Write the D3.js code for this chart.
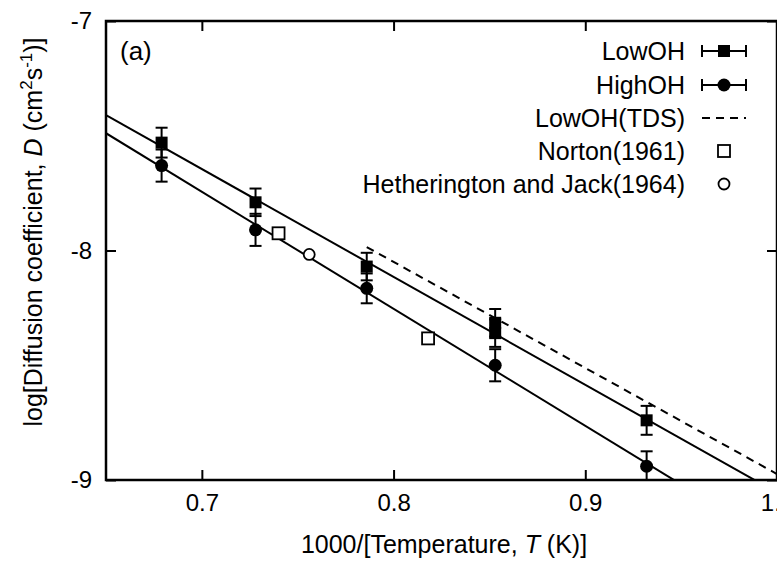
<!DOCTYPE html>
<html><head><meta charset="utf-8">
<script src="https://cdn.jsdelivr.net/npm/d3@7"></script>
<style>
body{margin:0;background:#fff;}
svg{font-family:"Liberation Sans",Arial,Helvetica,sans-serif;}
</style></head>
<body><svg id="c" width="777" height="568"></svg>
<script>
// ---- data ----
const xTicks = [0.7, 0.8, 0.9, 1.0];
const yTicks = [-7, -8, -9];
const lowX   = [0.679, 0.728, 0.786, 0.853, 0.853, 0.932];
const lowY   = [-7.53, -7.79, -8.07, -8.315, -8.36, -8.74];
const lowErr = [0.065, 0.06, 0.06, 0.06, 0.06, 0.063];
const highX  = [0.679, 0.728, 0.786, 0.853, 0.932];
const highY  = [-7.63, -7.91, -8.165, -8.50, -8.94];
const highErr= [0.07, 0.07, 0.065, 0.07, 0.065];
const lowFit  = [[0.65, -7.41], [1.0, -9.055]];
const highFit = [[0.65, -7.489], [1.0, -9.274]];
const tdsFit  = [[0.786, -7.985], [1.0, -8.974]];
const nortonX = [0.740, 0.818];
const nortonY = [-7.925, -8.383];
const hjX = [0.756];
const hjY = [-8.017];
const legendLabels = ["LowOH", "HighOH", "LowOH(TDS)", "Norton(1961)", "Hetherington and Jack(1964)"];

// ---- layout ----
const L = 106, R = 777, T = 21, B = 480;
const svg = d3.select("#c");
const x = d3.scaleLinear().domain([0.65, 1.0]).range([L, R]);
const y = d3.scaleLinear().domain([-7, -9]).range([T, B]);

svg.append("defs").append("clipPath").attr("id","clip")
  .append("rect").attr("x",L).attr("y",T).attr("width",R-L).attr("height",B-T);

const plot = svg.append("g").attr("clip-path","url(#clip)");
const line = d3.line().x(d=>x(d[0])).y(d=>y(d[1]));

plot.append("path").datum(lowFit).attr("d",line).attr("stroke","#000").attr("stroke-width",2).attr("fill","none");
plot.append("path").datum(highFit).attr("d",line).attr("stroke","#000").attr("stroke-width",2).attr("fill","none");
plot.append("path").datum(tdsFit).attr("d",line).attr("stroke","#000").attr("stroke-width",2).attr("fill","none").attr("stroke-dasharray","8,6");

function errBars(xs, ys, es){
  const g = plot.append("g").attr("stroke","#000").attr("stroke-width",2);
  xs.forEach((xv,i)=>{
    const cx = x(xv), y1 = y(ys[i]+es[i]), y2 = y(ys[i]-es[i]);
    g.append("line").attr("x1",cx).attr("x2",cx).attr("y1",y1).attr("y2",y2);
    g.append("line").attr("x1",cx-6).attr("x2",cx+6).attr("y1",y1).attr("y2",y1);
    g.append("line").attr("x1",cx-6).attr("x2",cx+6).attr("y1",y2).attr("y2",y2);
  });
}
errBars(lowX, lowY, lowErr);
errBars(highX, highY, highErr);

plot.selectAll(".lo").data(lowX).enter().append("rect")
  .attr("x",(d)=>x(d)-6).attr("y",(d,i)=>y(lowY[i])-6).attr("width",12).attr("height",12).attr("fill","#000");
plot.selectAll(".hi").data(highX).enter().append("circle")
  .attr("cx",d=>x(d)).attr("cy",(d,i)=>y(highY[i])).attr("r",6.5).attr("fill","#000");
plot.selectAll(".no").data(nortonX).enter().append("rect")
  .attr("x",d=>x(d)-6).attr("y",(d,i)=>y(nortonY[i])-6).attr("width",12).attr("height",12)
  .attr("fill","#fff").attr("stroke","#000").attr("stroke-width",1.8);
plot.selectAll(".hj").data(hjX).enter().append("circle")
  .attr("cx",d=>x(d)).attr("cy",(d,i)=>y(hjY[i])).attr("r",5.5)
  .attr("fill","#fff").attr("stroke","#000").attr("stroke-width",1.8);

// ---- axes ----
const axB = svg.append("g").attr("transform",`translate(0,${B})`)
  .call(d3.axisBottom(x).tickValues(xTicks).tickSize(-10).tickPadding(14).tickFormat(d=>d.toFixed(1)));
const axT = svg.append("g").attr("transform",`translate(0,${T})`)
  .call(d3.axisTop(x).tickValues(xTicks).tickSize(-10).tickFormat(""));
const axL = svg.append("g").attr("transform",`translate(${L},0)`)
  .call(d3.axisLeft(y).tickValues(yTicks).tickSize(-10).tickPadding(14).tickFormat(d=>String(d)));
const axR = svg.append("g").attr("transform",`translate(${R},0)`)
  .call(d3.axisRight(y).tickValues(yTicks).tickSize(-10).tickFormat(""));
[axB,axT,axL,axR].forEach(a=>{
  a.selectAll(".domain").remove();
  a.selectAll("line").attr("stroke","#000").attr("stroke-width",2);
  a.selectAll("text").attr("font-size",24).attr("fill","#000")
    .attr("font-family","'Liberation Sans',Arial,sans-serif");
});
svg.append("rect").attr("x",L).attr("y",T).attr("width",R-L).attr("height",B-T)
  .attr("fill","none").attr("stroke","#000").attr("stroke-width",2.5);

// ---- titles ----
const xt = svg.append("text").attr("x",444).attr("y",553).attr("text-anchor","middle")
  .attr("font-size",25).attr("fill","#000");
xt.append("tspan").text("1000/[Temperature, ");
xt.append("tspan").attr("font-style","italic").text("T");
xt.append("tspan").text(" (K)]");

const yt = svg.append("text").attr("transform","translate(42,232) rotate(-90)").attr("text-anchor","middle")
  .attr("font-size",25).attr("fill","#000");
yt.append("tspan").text("log[Diffusion coefficient, ");
yt.append("tspan").attr("font-style","italic").text("D");
yt.append("tspan").text(" (cm");
yt.append("tspan").attr("font-size",17).attr("dy",-10).text("2");
yt.append("tspan").attr("dy",10).text("s");
yt.append("tspan").attr("font-size",17).attr("dy",-10).text("-1");
yt.append("tspan").attr("dy",10).text(")]");

svg.append("text").attr("x",120).attr("y",60).attr("font-size",26).text("(a)");

// ---- legend ----
const lg = svg.append("g");
const rowsY = [51, 85, 118, 151, 184];
legendLabels.forEach((t,i)=>{
  lg.append("text").attr("x",685).attr("y",rowsY[i]).attr("dy","0.35em").attr("text-anchor","end")
    .attr("font-size",25).attr("fill","#000").text(t);
});
const sx = 724;
[0,1].forEach(i=>{
  const yy = rowsY[i];
  lg.append("line").attr("x1",sx-22).attr("x2",sx+22).attr("y1",yy).attr("y2",yy).attr("stroke","#000").attr("stroke-width",2);
  lg.append("line").attr("x1",sx-22).attr("x2",sx-22).attr("y1",yy-6).attr("y2",yy+6).attr("stroke","#000").attr("stroke-width",2);
  lg.append("line").attr("x1",sx+22).attr("x2",sx+22).attr("y1",yy-6).attr("y2",yy+6).attr("stroke","#000").attr("stroke-width",2);
});
lg.append("rect").attr("x",sx-6).attr("y",rowsY[0]-6).attr("width",12).attr("height",12).attr("fill","#000");
lg.append("circle").attr("cx",sx).attr("cy",rowsY[1]).attr("r",6.5).attr("fill","#000");
lg.append("line").attr("x1",sx-22).attr("x2",sx+22).attr("y1",rowsY[2]).attr("y2",rowsY[2])
  .attr("stroke","#000").attr("stroke-width",2).attr("stroke-dasharray","8,6");
lg.append("rect").attr("x",sx-6).attr("y",rowsY[3]-6).attr("width",12).attr("height",12)
  .attr("fill","#fff").attr("stroke","#000").attr("stroke-width",1.8);
lg.append("circle").attr("cx",sx).attr("cy",rowsY[4]).attr("r",5.5)
  .attr("fill","#fff").attr("stroke","#000").attr("stroke-width",1.8);
</script></body></html>
